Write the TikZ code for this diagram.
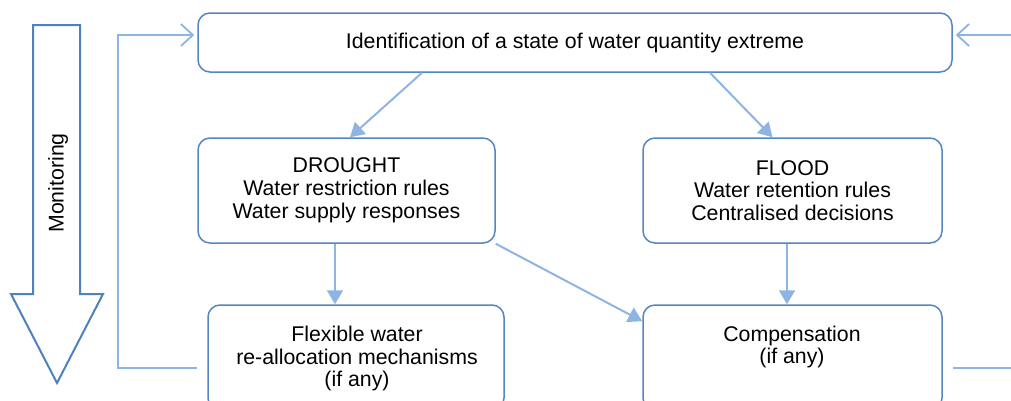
\documentclass[tikz,border=0pt]{standalone}
\usepackage{fontspec}
\setmainfont{Liberation Sans}
\usetikzlibrary{arrows.meta}
\definecolor{boxblue}{HTML}{5585C3}
\definecolor{linkblue}{HTML}{8DB4E2}
\definecolor{monblue}{HTML}{4F81BD}
\begin{document}
\begin{tikzpicture}[x=1pt,y=-1pt,
  box/.style={draw=boxblue,line width=1.5pt,rounded corners=12pt,fill=white,
    align=center,inner sep=0pt,font=\fontsize{21.3}{22.8}\selectfont},
  txt/.style={align=center,inner sep=0pt,font=\fontsize{21.3}{22.8}\selectfont},
  link/.style={draw=linkblue,line width=2pt,-{Triangle[length=14pt,width=16pt]}},
  fb/.style={draw=linkblue,line width=1.8pt},
  fbarrow/.style={fb,-{Straight Barb[length=12pt,width=22pt,line width=1.8pt]}}]
\path[use as bounding box,clip] (0,0) rectangle (1011,400);
% monitoring arrow
\draw[monblue,line width=2pt,line join=miter,fill=white]
  (33,25) -- (80,25) -- (80,294) -- (103,294) -- (57,383) -- (11,294) -- (33,294) -- cycle;
\node[txt,rotate=90] (mon) at (58,183) {Monitoring};
% boxes
\node[box,minimum width=754pt,minimum height=59pt] (top) at (575,42.5)
  {Identification of a state of water quantity extreme};
\node[box,minimum width=297pt,minimum height=105pt] (drought) at (346.5,190.5)
  {DROUGHT\\Water restriction rules\\Water supply responses};
\node[box,minimum width=299pt,minimum height=105pt] (flood) at (792.5,190.5)
  {FLOOD\\Water retention rules\\Centralised decisions};
\node[box,minimum width=296pt,minimum height=105pt] (flex) at (356,357.5) {};
\node[txt] (flextxt) at (357,358.5) {Flexible water\\re-allocation mechanisms\\(if any)};
\node[box,minimum width=299pt,minimum height=105pt] (comp) at (792.5,357.5) {};
\node[txt] (comptxt) at (792,347) {Compensation\\(if any)};
% connectors
\draw[link] ([xshift=-153pt]top.south) -- ([xshift=3.5pt]drought.north);
\draw[link] ([xshift=135pt]top.south) -- ([xshift=-20pt]flood.north);
\draw[link] ([xshift=-11.5pt]drought.south) -- ([xshift=-11.5pt]drought.south |- flex.north);
\draw[link] ([xshift=-5.5pt]flood.south) -- ([xshift=-5.5pt]flood.south |- comp.north);
\draw[link] (drought.south east) -- ([yshift=-17pt]comp.north west);
% feedback loops
\coordinate (lb) at (197,368);
\coordinate (lc1) at (118,368);
\coordinate (lc2) at (118,35);
\draw[fbarrow] (lb) -- (lc1) -- (lc2) -- ([xshift=-3pt,yshift=7.5pt]top.west);
\coordinate (rs) at (1011,35);
\draw[fbarrow] (rs) -- ([xshift=3pt,yshift=7.5pt]top.east);
\coordinate (rb1) at (953,368);
\coordinate (rb2) at (1011,368);
\draw[fb] (rb1) -- (rb2);
\end{tikzpicture}
\end{document}
